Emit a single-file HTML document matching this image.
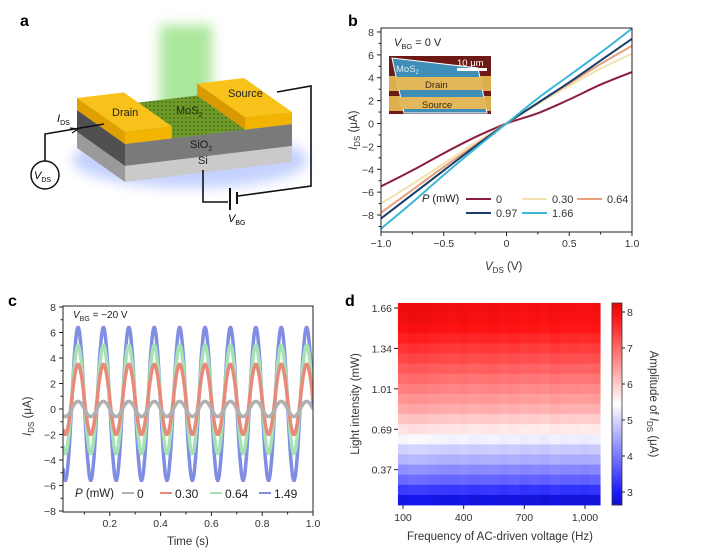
<!DOCTYPE html>
<html><head><meta charset="utf-8"><style>
body{margin:0;background:#fff}
svg{display:block;font-family:"Liberation Sans",sans-serif}
</style></head><body>
<svg id="fig" width="717" height="552" viewBox="0 0 717 552">
<defs>
<filter id="blur6" x="-50%" y="-50%" width="200%" height="200%"><feGaussianBlur stdDeviation="6"/></filter>
<filter id="blur3" x="-50%" y="-50%" width="200%" height="200%"><feGaussianBlur stdDeviation="3"/></filter>
<pattern id="mosdots" width="4" height="4" patternUnits="userSpaceOnUse"><rect width="4" height="4" fill="#6f9a2a"/><circle cx="2" cy="2" r="0.9" fill="#3f6a12"/></pattern>
</defs>

<!-- Panel a -->
<g>
<text x="20" y="26" font-size="16" font-weight="bold">a</text>
<ellipse cx="190" cy="160" rx="118" ry="28" fill="#9fb4ff" opacity="0.6" filter="url(#blur6)"/>
<rect x="160" y="25" width="52" height="85" fill="#8fe07a" opacity="0.75" filter="url(#blur6)"/>
<polygon points="77,110 125,144 125,166 77,132" fill="#505050"/>
<polygon points="77,132 125,166 125,182 77,148" fill="#9a9a9a"/>
<polygon points="125,144 292,124 292,146 125,166" fill="#7a7a7a"/>
<polygon points="125,166 292,146 292,162 125,182" fill="#cacaca"/>
<polygon points="77,110 125,144 292,124 244,90" fill="#8a8a8a"/>
<polygon points="123.8,104.4 171.8,138.4 245.2,129.6 197.2,95.6" fill="url(#mosdots)"/>
<polygon points="77,98 125,132 125,144 77,110" fill="#e0a000"/>
<polygon points="125,132 171.8,126.4 171.8,138.4 125,144" fill="#f2b400"/>
<polygon points="77,98 125,132 171.8,126.4 123.8,92.4" fill="#f8c21a"/>
<polygon points="197.2,95.6 245.2,129.6 245.2,117.6 197.2,83.6" fill="#d89a00"/>
<polygon points="245.2,117.6 292,112 292,124 245.2,129.6" fill="#f2b400"/>
<polygon points="197.2,83.6 245.2,117.6 292,112 244,78" fill="#f8c21a"/>
<text x="112" y="116" font-size="11" fill="#222">Drain</text>
<text x="228" y="97" font-size="11" fill="#222">Source</text>
<text x="176" y="114" font-size="11" fill="#1a2a08">MoS<tspan font-size="7" dy="3">2</tspan></text>
<text x="190" y="148" font-size="11" fill="#1a1a1a">SiO<tspan font-size="7" dy="3">2</tspan></text>
<text x="198" y="164" font-size="11" fill="#1a1a1a">Si</text>
<g fill="none" stroke="#111" stroke-width="1.6">
<polyline points="104,124 45,134 45,161"/>
<polyline points="277,92 311,86 311,186 238,196"/>
<polyline points="203,170 203,202 228,202"/>
<line x1="230" y1="188" x2="230" y2="210" stroke-width="2"/>
<line x1="237" y1="192" x2="237" y2="204" stroke-width="2"/>
<polyline points="70,128 78,129 72,133" stroke-width="1.2"/>
</g>
<circle cx="45" cy="175" r="14" fill="#fff" stroke="#111" stroke-width="1.5"/>
<text x="34" y="179" font-size="11" font-style="italic">V<tspan font-size="7" font-style="normal" dy="3">DS</tspan></text>
<text x="57" y="122" font-size="11" font-style="italic">I<tspan font-size="7" font-style="normal" dy="3">DS</tspan></text>
<text x="228" y="222" font-size="11" font-style="italic">V<tspan font-size="7" font-style="normal" dy="3">BG</tspan></text>
</g>

<g id="pb">
<text x="348" y="26" font-size="16" font-weight="bold">b</text>
</g>
<g id="pc">
<text x="8" y="306" font-size="16" font-weight="bold">c</text>
</g>
<g id="pd">
<text x="345" y="306" font-size="16" font-weight="bold">d</text>
</g>
</svg>
<script>
// ---- panel b data ----
const ivVoltages = [-1, -0.75, -0.5, -0.25, 0, 0.25, 0.5, 0.75, 1];
const ivPowerLabels = ["0", "0.30", "0.64", "0.97", "1.66"];
const ivCurrentP0 = [-5.5, -4.1, -2.6, -1.2, 0, 0.9, 2.1, 3.4, 4.5];
const ivCurrentP030 = [-7.0, -5.3, -3.5, -1.7, 0, 1.7, 3.3, 4.8, 6.1];
const ivCurrentP064 = [-7.8, -5.8, -3.8, -1.9, 0, 1.8, 3.5, 5.2, 6.8];
const ivCurrentP097 = [-8.3, -6.2, -4.1, -2.0, 0, 1.8, 3.6, 5.5, 7.4];
const ivCurrentP166 = [-9.2, -6.9, -4.5, -2.2, 0, 2.2, 4.2, 6.2, 8.3];
const ivXTicks = [-1.0, -0.5, 0, 0.5, 1.0];
const ivXTickLabels = ["\u22121.0", "\u22120.5", "0", "0.5", "1.0"];
const ivYTicks = [-8, -6, -4, -2, 0, 2, 4, 6, 8];
// ---- panel c data ----
const tcPowerLabels = ["0", "0.30", "0.64", "1.49"];
const tcPeaks = [0.6, 3.5, 5.0, 6.4];
const tcTroughs = [-0.6, -2.0, -3.5, -5.6];
const tcPeriod = [0.1];
const tcFirstPeakTime = [0.075];
const tcTimeRange = [0.016, 1.0];
const tcXTicks = [0.2, 0.4, 0.6, 0.8, 1.0];
const tcYTicks = [-8, -6, -4, -2, 0, 2, 4, 6, 8];
// ---- panel d data ----
const hmFrequencies = [100,150,200,250,300,350,400,450,500,550,600,650,700,750,800,850,900,950,1000,1050];
const hmIntensities = [1.66,1.58,1.50,1.42,1.34,1.26,1.18,1.09,1.01,0.93,0.85,0.77,0.69,0.61,0.53,0.45,0.37,0.29,0.21,0.13];
const hmRowAmplitude = [8.05,8.0,7.9,7.7,7.5,7.3,7.1,6.9,6.7,6.5,6.3,6.0,5.7,5.3,4.9,4.6,4.2,3.8,3.3,2.8];
const hmColumnShift = [0.05,0.1,0.08,0.05,0.02,0,0.03,-0.02,0,0.02,-0.03,0,-0.05,-0.02,-0.06,0,-0.04,-0.03,-0.05,-0.02];
const hmXTicks = [100, 400, 700, 1000];
const hmXTickLabels = ["100", "400", "700", "1,000"];
const hmYTickRows = [0, 4, 8, 12, 16];
const cbTicks = [3, 4, 5, 6, 7, 8];
const cbRange = [2.64, 8.25];

const NS = "http://www.w3.org/2000/svg";
function mk(parent, tag, attrs, text) {
  const e = document.createElementNS(NS, tag);
  for (const k in attrs) e.setAttribute(k, attrs[k]);
  if (text !== undefined) e.textContent = text;
  parent.appendChild(e);
  return e;
}
function smoothPath(pts) {
  let d = "M" + pts[0][0].toFixed(1) + "," + pts[0][1].toFixed(1);
  for (let i = 0; i < pts.length - 1; i++) {
    const p0 = pts[Math.max(0, i - 1)], p1 = pts[i], p2 = pts[i + 1], p3 = pts[Math.min(pts.length - 1, i + 2)];
    const c1x = p1[0] + (p2[0] - p0[0]) / 6, c1y = p1[1] + (p2[1] - p0[1]) / 6;
    const c2x = p2[0] - (p3[0] - p1[0]) / 6, c2y = p2[1] - (p3[1] - p1[1]) / 6;
    d += " C" + c1x.toFixed(1) + "," + c1y.toFixed(1) + " " + c2x.toFixed(1) + "," + c2y.toFixed(1) + " " + p2[0].toFixed(1) + "," + p2[1].toFixed(1);
  }
  return d;
}

// ===== Panel b =====
(function () {
  const g = document.getElementById("pb");
  const X0 = 381, X1 = 632, Y0 = 28, Y1 = 232;
  const xs = v => 506.5 + v * 125.5;
  const ys = i => 123.5 - i * 11.44;
  const series = [ivCurrentP0, ivCurrentP030, ivCurrentP064, ivCurrentP097, ivCurrentP166];
  const colors = ["#8a1c40", "#f2e2b0", "#e8a07a", "#173d6c", "#3eb6d8"];
  const clip = mk(g, "clipPath", { id: "clipb" });
  mk(clip, "rect", { x: X0, y: Y0, width: X1 - X0, height: Y1 - Y0 });
  const lines = mk(g, "g", { "clip-path": "url(#clipb)" });
  
  
  series.forEach((s, k) => {
    const pts = ivVoltages.map((v, i) => [xs(v), ys(s[i])]);
    const p = mk(lines, "path", { d: smoothPath(pts), fill: "none", stroke: colors[k], "stroke-width": 2 });
    
    
  });
  const box = mk(g, "rect", { x: X0, y: Y0, width: X1 - X0, height: Y1 - Y0, fill: "none", stroke: "#222", "stroke-width": 1 });
  
  
  ivXTicks.forEach((v, i) => {
    mk(g, "line", { x1: xs(v), x2: xs(v), y1: Y1, y2: Y1 + 4, stroke: "#222" });
    const t = mk(g, "text", { x: xs(v), y: Y1 + 15, "font-size": 10.5, "text-anchor": "middle", fill: "#333" }, ivXTickLabels[i]);
    
    
  });
  for (let v = -0.75; v <= 0.76; v += 0.5) mk(g, "line", { x1: xs(v), x2: xs(v), y1: Y1, y2: Y1 + 2.5, stroke: "#222" });
  ivYTicks.forEach(v => {
    mk(g, "line", { x1: X0 - 4, x2: X0, y1: ys(v), y2: ys(v), stroke: "#222" });
    const t = mk(g, "text", { x: X0 - 7, y: ys(v) + 4, "font-size": 10.5, "text-anchor": "end", fill: "#333" }, v < 0 ? "\u2212" + (-v) : String(v));
    
    
  });
  for (let v = -9; v <= 7; v += 2) mk(g, "line", { x1: X0 - 2.5, x2: X0, y1: ys(v), y2: ys(v), stroke: "#222" });
  const xt = mk(g, "text", { x: 485, y: 270, "font-size": 11.5, fill: "#333" });
  xt.innerHTML = '<tspan font-style="italic">V</tspan><tspan font-size="8" dy="3">DS</tspan><tspan dy="-3"> (V)</tspan>';
  
  
  const yt = mk(g, "text", { transform: "translate(357,150) rotate(-90)", "font-size": 11.5, fill: "#333" });
  yt.innerHTML = '<tspan font-style="italic">I</tspan><tspan font-size="8" dy="3">DS</tspan><tspan dy="-3"> (\u03bcA)</tspan>';
  
  
  const vb = mk(g, "text", { x: 394, y: 46, "font-size": 11, fill: "#222" });
  vb.innerHTML = '<tspan font-style="italic">V</tspan><tspan font-size="7.5" dy="3">BG</tspan><tspan dy="-3"> = 0 V</tspan>';
  
  
  const ins = mk(g, "g", {});
  
  
  mk(ins, "rect", { x: 389, y: 56, width: 102, height: 58, fill: "#6e1a14" });
  mk(ins, "rect", { x: 389, y: 76, width: 102, height: 15, fill: "#dcae4e" });
  mk(ins, "rect", { x: 389, y: 96, width: 102, height: 15, fill: "#dcae4e" });
  mk(ins, "polygon", { points: "392,58 478,68 487,113 404,113", fill: "#3e8eb8", stroke: "#fff", "stroke-width": 1 });
  mk(ins, "polygon", { points: "395,77 481,77 484,90 397,90", fill: "#e2b85a" });
  mk(ins, "polygon", { points: "398,97 485,97 487,109 401,109", fill: "#e2b85a" });
  mk(ins, "rect", { x: 457, y: 68, width: 30, height: 3, fill: "#fff" });
  mk(ins, "text", { x: 457, y: 66, "font-size": 9.5, fill: "#fff" }, "10 \u03bcm");
  const mt = mk(ins, "text", { x: 396, y: 72, "font-size": 9.5, fill: "#dfe8f0" });
  mt.innerHTML = 'MoS<tspan font-size="6" dy="2">2</tspan>';
  mk(ins, "text", { x: 425, y: 88, "font-size": 9.5, fill: "#3a2a10" }, "Drain");
  mk(ins, "text", { x: 422, y: 108, "font-size": 9.5, fill: "#3a2a10" }, "Source");
  const lg = mk(g, "g", {});
  
  
  const lt = mk(lg, "text", { x: 422, y: 202, "font-size": 11, fill: "#222" });
  lt.innerHTML = '<tspan font-style="italic">P</tspan> (mW)';
  const pos = [[466, 199], [522, 199], [577, 199], [466, 213], [522, 213]];
  series.forEach((s, k) => {
    const e = mk(lg, "g", {});
    
    
    mk(e, "line", { x1: pos[k][0], x2: pos[k][0] + 25, y1: pos[k][1], y2: pos[k][1], stroke: colors[k], "stroke-width": 2 });
    mk(e, "text", { x: pos[k][0] + 30, y: pos[k][1] + 4, "font-size": 11, fill: "#333" }, ivPowerLabels[k]);
  });
})();

// ===== Panel c =====
(function () {
  const g = document.getElementById("pc");
  const X0 = 63, X1 = 313, Y0 = 306, Y1 = 512;
  const xs = t => 59 + t * 254;
  const ys = i => 409 - i * 12.75;
  const colors = ["#b0b0b0", "#e88a7a", "#a6e2b4", "#7f8ee2"];
  const clip = mk(g, "clipPath", { id: "clipc" });
  mk(clip, "rect", { x: X0, y: Y0, width: X1 - X0, height: Y1 - Y0 });
  const lines = mk(g, "g", { "clip-path": "url(#clipc)" });
  
  
  [3, 2, 1, 0].forEach(k => {
    const mid = (tcPeaks[k] + tcTroughs[k]) / 2, amp = (tcPeaks[k] - tcTroughs[k]) / 2;
    let d = "";
    for (let t = tcTimeRange[0]; t <= tcTimeRange[1] + 1e-9; t += 0.002) {
      const v = mid + amp * Math.cos(2 * Math.PI * (t - tcFirstPeakTime[0]) / tcPeriod[0]);
      d += (d ? " L" : "M") + xs(t).toFixed(1) + "," + ys(v).toFixed(1);
    }
    const p = mk(lines, "path", { d: d, fill: "none", stroke: colors[k], "stroke-width": 3.5 });
    
    
  });
  const box = mk(g, "rect", { x: X0, y: Y0, width: X1 - X0, height: Y1 - Y0, fill: "none", stroke: "#222", "stroke-width": 1 });
  
  
  tcXTicks.forEach(v => {
    mk(g, "line", { x1: xs(v), x2: xs(v), y1: Y1, y2: Y1 + 4, stroke: "#222" });
    const t = mk(g, "text", { x: xs(v), y: Y1 + 15, "font-size": 10.5, "text-anchor": "middle", fill: "#333" }, v.toFixed(1));
    
    
  });
  for (let v = 0.1; v <= 0.95; v += 0.2) mk(g, "line", { x1: xs(v), x2: xs(v), y1: Y1, y2: Y1 + 2.5, stroke: "#222" });
  tcYTicks.forEach(v => {
    mk(g, "line", { x1: X0 - 4, x2: X0, y1: ys(v), y2: ys(v), stroke: "#222" });
    const t = mk(g, "text", { x: X0 - 7, y: ys(v) + 4, "font-size": 10.5, "text-anchor": "end", fill: "#333" }, v < 0 ? "\u2212" + (-v) : String(v));
    
    
  });
  for (let v = -7; v <= 7; v += 2) mk(g, "line", { x1: X0 - 2.5, x2: X0, y1: ys(v), y2: ys(v), stroke: "#222" });
  const xt = mk(g, "text", { x: 188, y: 545, "font-size": 11.5, fill: "#333", "text-anchor": "middle" }, "Time (s)");
  
  
  const yt = mk(g, "text", { transform: "translate(31,436) rotate(-90)", "font-size": 11.5, fill: "#333" });
  yt.innerHTML = '<tspan font-style="italic">I</tspan><tspan font-size="8" dy="3">DS</tspan><tspan dy="-3"> (\u03bcA)</tspan>';
  
  
  const vb = mk(g, "text", { x: 73, y: 318, "font-size": 10, fill: "#222" });
  vb.innerHTML = '<tspan font-style="italic">V</tspan><tspan font-size="7" dy="3">BG</tspan><tspan dy="-3"> = \u221220 V</tspan>';
  
  
  const lg = mk(g, "g", {});
  
  
  const lt = mk(lg, "text", { x: 75, y: 497, "font-size": 11.5, fill: "#222" });
  lt.innerHTML = '<tspan font-style="italic">P</tspan> (mW)';
  const pos = [122, 160, 210, 259];
  tcPowerLabels.forEach((lab, k) => {
    const e = mk(lg, "g", {});
    
    
    mk(e, "line", { x1: pos[k], x2: pos[k] + 12, y1: 493, y2: 493, stroke: colors[k], "stroke-width": 2 });
    mk(e, "text", { x: pos[k] + 15, y: 498, "font-size": 12, fill: "#222" }, lab);
  });
})();

// ===== Panel d =====
(function () {
  const g = document.getElementById("pd");
  const X0 = 398, X1 = 599, Y0 = 303, Y1 = 505;
  const xs = f => 403 + (f - 100) * (182 / 900);
  const colW = 50 * 182 / 900;
  const rowH = (Y1 - Y0) / hmIntensities.length;
  const stops = [[2.64, [16, 16, 200]], [3.0, [26, 26, 255]], [5.45, [255, 255, 255]], [7.9, [255, 18, 18]], [8.25, [225, 10, 10]]];
  function cmap(v) {
    if (v <= stops[0][0]) return "rgb(" + stops[0][1].join(",") + ")";
    for (let i = 0; i < stops.length - 1; i++) {
      const a = stops[i], b = stops[i + 1];
      if (v <= b[0]) {
        const f = (v - a[0]) / (b[0] - a[0]);
        return "rgb(" + a[1].map((c, j) => Math.round(c + (b[1][j] - c) * f)).join(",") + ")";
      }
    }
    return "rgb(" + stops[stops.length - 1][1].join(",") + ")";
  }
  const cells = mk(g, "g", {});
  
  
  hmIntensities.forEach((inten, r) => {
    hmFrequencies.forEach((f, c) => {
      const v = hmRowAmplitude[r] + hmColumnShift[c];
      const rc = mk(cells, "rect", { x: (xs(f) - colW / 2).toFixed(2), y: (Y0 + r * rowH).toFixed(2), width: (colW + 0.4).toFixed(2), height: (rowH + 0.4).toFixed(2), fill: cmap(v) });
      
      
    });
  });
  hmXTicks.forEach((f, i) => {
    mk(g, "line", { x1: xs(f), x2: xs(f), y1: Y1, y2: Y1 + 4, stroke: "#222" });
    const t = mk(g, "text", { x: xs(f), y: Y1 + 16, "font-size": 10.5, "text-anchor": "middle", fill: "#333" }, hmXTickLabels[i]);
    
    
  });
  hmYTickRows.forEach(r => {
    const y = Y0 + (r + 0.5) * rowH;
    mk(g, "line", { x1: X0 - 4, x2: X0, y1: y, y2: y, stroke: "#222" });
    const t = mk(g, "text", { x: X0 - 6, y: y + 4, "font-size": 10.5, "text-anchor": "end", fill: "#333" }, hmIntensities[r].toFixed(2));
    
    
  });
  const xt = mk(g, "text", { x: 500, y: 540, "font-size": 11.5, fill: "#333", "text-anchor": "middle" }, "Frequency of AC-driven voltage (Hz)");
  
  
  const yt = mk(g, "text", { transform: "translate(359,404) rotate(-90)", "font-size": 11.5, fill: "#333", "text-anchor": "middle" }, "Light intensity (mW)");
  
  
  const CB0 = 612, CB1 = 622;
  const cy = v => 492 - (v - 3) * 36;
  const cb = mk(g, "g", {});
  
  
  const n = 100;
  for (let i = 0; i < n; i++) {
    const v0 = cbRange[0] + (cbRange[1] - cbRange[0]) * i / n, v1 = cbRange[0] + (cbRange[1] - cbRange[0]) * (i + 1) / n;
    mk(cb, "rect", { x: CB0, y: cy(v1).toFixed(2), width: CB1 - CB0, height: (cy(v0) - cy(v1) + 0.4).toFixed(2), fill: cmap((v0 + v1) / 2) });
  }
  mk(cb, "rect", { x: CB0, y: cy(cbRange[1]), width: CB1 - CB0, height: cy(cbRange[0]) - cy(cbRange[1]), fill: "none", stroke: "#333", "stroke-width": 0.8 });
  cbTicks.forEach(v => {
    mk(cb, "line", { x1: CB1, x2: CB1 + 3, y1: cy(v), y2: cy(v), stroke: "#222" });
    const t = mk(cb, "text", { x: CB1 + 5, y: cy(v) + 4, "font-size": 10.5, fill: "#333" }, String(v));
    
    
  });
  const ct = mk(g, "text", { transform: "translate(650,404) rotate(90)", "font-size": 11.5, fill: "#333", "text-anchor": "middle" });
  ct.innerHTML = 'Amplitude of <tspan font-style="italic">I</tspan><tspan font-size="8" dy="3">DS</tspan><tspan dy="-3"> (\u03bcA)</tspan>';
  
  
})();
</script>
</body></html>
